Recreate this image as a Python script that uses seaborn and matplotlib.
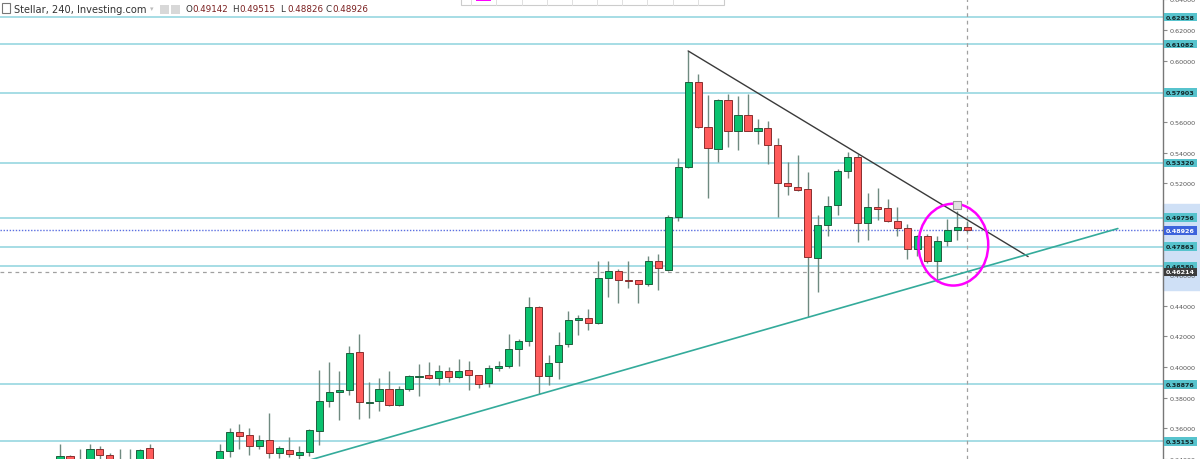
import numpy as np
import pandas as pd
import matplotlib
matplotlib.use("Agg")
import matplotlib.pyplot as plt
from matplotlib.patches import Ellipse, Rectangle
from matplotlib.ticker import FormatStrFormatter
import seaborn as sns

nan = np.nan

# Stellar (XLM) 4h candles, index 0 = leftmost visible candle
opens = [0.3366, 0.3418, 0.3360, 0.3340, 0.3464, 0.3425, 0.3330, 0.3340, 0.3360, 0.3470,
         nan, nan, nan, nan, nan, nan,
         0.3380, 0.3451, 0.3575, 0.3555, 0.3483, 0.3522, 0.3438, 0.3457, 0.3425, 0.3444,
         0.3581, 0.3776, 0.3835, 0.3848, 0.4096, 0.3766, 0.3776, 0.3855, 0.3750, 0.3855,
         0.3933, 0.3946, 0.3926, 0.3972, 0.3933, 0.3978, 0.3946, 0.3894, 0.3995, 0.4004,
         0.4115, 0.4167, 0.4395, 0.3939, 0.4031, 0.4148, 0.4308, 0.4317, 0.4285, 0.4584,
         0.4630, 0.4565, 0.4565, 0.4539, 0.4695, 0.4636, 0.4982, 0.5307, 0.5861, 0.5568,
         0.5425, 0.5744, 0.5542, 0.5646, 0.5542, 0.5562, 0.5451, 0.5203, 0.5177, 0.5164,
         0.4715, 0.4930, 0.5060, 0.5281, 0.5373, 0.4943, 0.5047, 0.5040, 0.4956, 0.4910,
         0.4773, 0.4858, 0.4695, 0.4825, 0.4897, 0.49142]
highs = [0.3496, 0.3425, 0.3464, 0.3496, 0.3483, 0.3438, 0.3464, 0.3464, 0.3464, 0.3496,
         nan, nan, nan, nan, nan, nan,
         0.3496, 0.3601, 0.3627, 0.3601, 0.3555, 0.3698, 0.3483, 0.3542, 0.3483, 0.3594,
         0.3978, 0.4031, 0.3972, 0.4135, 0.4213, 0.3900, 0.3926, 0.3972, 0.3874, 0.3945,
         0.4017, 0.4031, 0.4011, 0.3998, 0.4050, 0.4037, 0.3950, 0.4011, 0.4037, 0.4213,
         0.4180, 0.4460, 0.4400, 0.4076, 0.4226, 0.4363, 0.4343, 0.4376, 0.4695, 0.4689,
         0.4640, 0.4689, 0.4570, 0.4728, 0.4741, 0.4995, 0.5366, 0.6063, 0.5913, 0.5777,
         0.5750, 0.5783, 0.5770, 0.5783, 0.5620, 0.5607, 0.5496, 0.5340, 0.5386, 0.5275,
         0.4995, 0.5119, 0.5294, 0.5405, 0.5392, 0.5138, 0.5171, 0.5099, 0.5047, 0.4936,
         0.4862, 0.4871, 0.4858, 0.4969, 0.5020, 0.49515]
lows = [0.3340, 0.3330, 0.3320, 0.3320, 0.3390, 0.3350, 0.3310, 0.3310, 0.3330, 0.3360,
        nan, nan, nan, nan, nan, nan,
        0.3350, 0.3412, 0.3464, 0.3425, 0.3464, 0.3405, 0.3405, 0.3410, 0.3400, 0.3418,
        0.3490, 0.3737, 0.3653, 0.3816, 0.3659, 0.3666, 0.3711, 0.3745, 0.3745, 0.3842,
        0.3809, 0.3920, 0.3881, 0.3900, 0.3926, 0.3848, 0.3861, 0.3868, 0.3972, 0.3991,
        0.4004, 0.4135, 0.3822, 0.3881, 0.3920, 0.4128, 0.4206, 0.4245, 0.4280, 0.4460,
        0.4415, 0.4519, 0.4421, 0.4530, 0.4506, 0.4630, 0.4956, 0.5300, 0.5560, 0.5105,
        0.5340, 0.5438, 0.5418, 0.5540, 0.5457, 0.5327, 0.4982, 0.5125, 0.5150, 0.4324,
        0.4493, 0.4858, 0.4995, 0.5236, 0.4819, 0.4832, 0.4962, 0.4949, 0.4858, 0.4702,
        0.4728, 0.4682, 0.4558, 0.4793, 0.4832, 0.48826]
closes = [0.3418, 0.3360, 0.3380, 0.3464, 0.3425, 0.3380, 0.3380, 0.3370, 0.3457, 0.3390,
          nan, nan, nan, nan, nan, nan,
          0.3451, 0.3575, 0.3548, 0.3483, 0.3522, 0.3438, 0.3470, 0.3431, 0.3444, 0.3587,
          0.3776, 0.3835, 0.3848, 0.4089, 0.3770, 0.3770, 0.3855, 0.3750, 0.3855, 0.3939,
          0.3939, 0.3926, 0.3972, 0.3933, 0.3972, 0.3946, 0.3887, 0.3991, 0.3998, 0.4115,
          0.4167, 0.4395, 0.3939, 0.4024, 0.4141, 0.4304, 0.4311, 0.4285, 0.4584, 0.4630,
          0.4565, 0.4562, 0.4539, 0.4695, 0.4649, 0.4982, 0.5307, 0.5861, 0.5568, 0.5431,
          0.5744, 0.5542, 0.5646, 0.5542, 0.5562, 0.5451, 0.5203, 0.5184, 0.5158, 0.4721,
          0.4930, 0.5053, 0.5281, 0.5373, 0.4943, 0.5047, 0.5034, 0.4956, 0.4910, 0.4773,
          0.4858, 0.4695, 0.4825, 0.4897, 0.4917, 0.48926]

# horizontal levels drawn on the chart
level_prices = [0.62838, 0.61082, 0.57903, 0.53320, 0.49756, 0.47863, 0.46580, 0.38876, 0.35153]
last_price = 0.48926
cross_price = 0.46214
cross_index = 91
highlight_range = [0.4506, 0.5067]

# trend lines (candle index, price)
resist_x = [63, 97.1]
resist_y = [0.6063, 0.4721]
support_x = [25.1, 106.1]
support_y = [0.3394, 0.4904]

# hand drawn circle
circle_x, circle_y = 89.6, 0.4799
circle_w, circle_h = 7.0, 0.0534
marker_x, marker_y = 90.0, 0.5060

y_ticks = [0.34, 0.36, 0.38, 0.40, 0.42, 0.44, 0.46, 0.48, 0.50, 0.52,
           0.54, 0.56, 0.58, 0.60, 0.62, 0.64]
title = "Stellar, 240, Investing.com"
ohlc_keys = ["O", "H", "L", "C"]
ohlc_vals = ["0.49142", "0.49515", "0.48826", "0.48926"]

GREEN, GREEN_EDGE = "#0ac26f", "#1e5e3e"
RED, RED_EDGE = "#ff5b5b", "#8a2e2e"
WICK = "#6f8a80"
LEVEL = "#a6dde5"
TAG = "#57c3cd"

W, H = 1200, 460


def fx(px):
    return px / W


def fy(py):
    return 1 - py / H


sns.set_theme(style="white")
plt.rcParams["font.family"] = ["DejaVu Sans"]

fig = plt.figure(figsize=(12, 4.6), dpi=100)
ax = fig.add_axes([0, 0, 1163 / W, 1])
ax.set_facecolor("white")

df = pd.DataFrame({"o": opens, "h": highs, "l": lows, "c": closes})
df["i"] = np.arange(len(df))
df = df.dropna()
up = df["c"] >= df["o"]
body_lo = np.minimum(df["o"], df["c"])
body_h = np.maximum((df["c"] - df["o"]).abs(), 0.0009)

ax.vlines(df["i"], df["l"], df["h"], color=WICK, lw=1.0, zorder=3)
ax.bar(df["i"][up], body_h[up], bottom=body_lo[up], width=0.72,
       color=GREEN, edgecolor=GREEN_EDGE, lw=0.7, zorder=4)
ax.bar(df["i"][~up], body_h[~up], bottom=body_lo[~up], width=0.72,
       color=RED, edgecolor=RED_EDGE, lw=0.7, zorder=4)

for p in level_prices:
    ax.axhline(p, color=LEVEL, lw=1.4, zorder=1)
ax.axhline(last_price, color="#5b6fe0", lw=1.0, ls=(0, (1, 1.2)), zorder=2)
ax.axhline(cross_price, color="#a0a0a0", lw=0.9, ls=(0, (3, 3)), zorder=2)
ax.axvline(cross_index, color="#a0a0a0", lw=0.9, ls=(0, (3, 3)), zorder=2)

sns.lineplot(x=resist_x, y=resist_y, ax=ax, color="#3a3a3a", lw=1.0, zorder=5)
sns.lineplot(x=support_x, y=support_y, ax=ax, color="#34ab9b", lw=1.2, zorder=5)

ax.add_patch(Ellipse((circle_x, circle_y), circle_w, circle_h, fill=False,
                     ec="#ff00ff", lw=1.8, zorder=6))
ax.scatter([marker_x], [marker_y], marker="s", s=28, c="#e2e2e2",
           edgecolors="#9a9a9a", linewidths=0.8, zorder=7)

ax.set_xlim(-6.02, 110.63)
ax.set_ylim(0.3405, 0.6402)
ax.set_yticks(y_ticks)
ax.yaxis.set_major_formatter(FormatStrFormatter("%.5f"))
ax.yaxis.tick_right()
ax.tick_params(axis="y", length=3, width=0.8, colors="#8a8a8a",
               labelcolor="#555555", labelsize=4.6, pad=2, right=True)
ax.set_xticks([])
for s in ["top", "left", "bottom"]:
    ax.spines[s].set_visible(False)
ax.spines["right"].set_color("#777777")
ax.spines["right"].set_linewidth(1.0)

# shaded price range on the axis (selected drawing)
ax.add_patch(Rectangle((1.0, highlight_range[0]), 0.032,
                       highlight_range[1] - highlight_range[0],
                       transform=ax.get_yaxis_transform(), clip_on=False,
                       color="#cfe0f6", zorder=0))


def price_tag(p, bg, fg):
    ax.text(1.0026, p, f"{p:.5f}", transform=ax.get_yaxis_transform(),
            fontsize=4.6, fontweight="bold", color=fg, ha="left", va="center",
            bbox=dict(boxstyle="square,pad=0.28", fc=bg, ec="none"),
            clip_on=False, zorder=8)


for p in level_prices:
    price_tag(p, TAG, "#12282b")
price_tag(last_price, "#3d63dc", "white")
price_tag(cross_price, "#3c3c3c", "white")

# header
fig.add_artist(Rectangle((fx(2), fy(14)), fx(8), 10 / H, transform=fig.transFigure,
                         fill=False, ec="#777777", lw=0.8))
fig.text(fx(14), fy(10), title, fontsize=7.1, color="#333333", va="center")
fig.text(fx(150), fy(9), "▾", fontsize=5, color="#bbbbbb", va="center")
for x0 in [160, 171]:
    fig.add_artist(Rectangle((fx(x0), fy(15)), fx(9), 9 / H, transform=fig.transFigure,
                             color="#d8d8d8", lw=0))
ohlc_x = [185, 232, 280, 325]
for x0, k, v in zip(ohlc_x, ohlc_keys, ohlc_vals):
    fig.text(fx(x0), fy(10), k, fontsize=6.3, color="#333333", va="center")
    fig.text(fx(x0 + 7), fy(10), v, fontsize=6.3, color="#7a1f1f", va="center")

# drawing toolbar peeking in at the top
fig.add_artist(Rectangle((fx(461), fy(6)), fx(263), 8 / H, transform=fig.transFigure,
                         fc="white", ec="#cccccc", lw=0.8))
for x0 in [471, 496, 522, 547, 572, 597, 622, 647, 673, 698]:
    fig.add_artist(plt.Line2D([fx(x0), fx(x0)], [fy(6), 1], transform=fig.transFigure,
                              color="#e0e0e0", lw=0.7))
fig.add_artist(Rectangle((fx(476), fy(2)), fx(15), 2 / H, transform=fig.transFigure,
                         color="#ff00ff", lw=0))

fig.savefig("out.png", dpi=100, facecolor="white")
